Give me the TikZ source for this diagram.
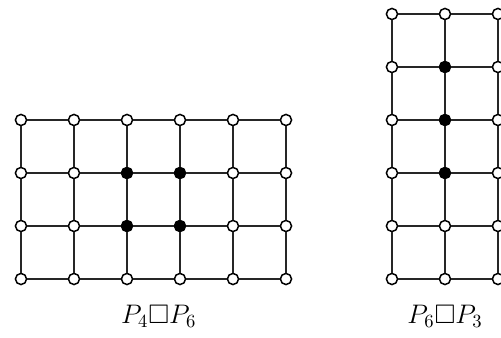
\documentclass[tikz,border=0pt]{standalone}
\usepackage{amsmath,amssymb}
\usetikzlibrary{positioning}
\tikzset{
  vertex/.style={draw=black,circle,fill=white,inner sep=0pt,
    minimum size=2.1mm,line width=0.8pt},
  dominated/.style={vertex,fill=black},
  gridedge/.style={line width=0.6pt,draw=black!85},
  caption/.style={font=\Large,anchor=base},
}

\begin{document}
\begin{tikzpicture}[x=1cm,y=1cm]
\useasboundingbox (-0.396,-1.113) rectangle (9.057,5.264);
% P4 box P6
\foreach \i in {0,...,5}
  \foreach \j in {0,...,3}{
    \pgfmathtruncatemacro\dark{and(\i>1,\i<4)*and(\j>0,\j<3)}
    \ifnum\dark=1 \def\vstyle{dominated}\else\def\vstyle{vertex}\fi
    \node[\vstyle] (a-\i-\j) at (\i,\j) {};
  }
\foreach \i in {0,...,4}
  \foreach \j in {0,...,3}{
    \pgfmathtruncatemacro\k{\i+1}
    \draw[gridedge] (a-\i-\j) -- (a-\k-\j);
  }
\foreach \i in {0,...,5}
  \foreach \j in {0,...,2}{
    \pgfmathtruncatemacro\k{\j+1}
    \draw[gridedge] (a-\i-\j) -- (a-\i-\k);
  }
% P6 box P3
\foreach \i in {0,...,2}
  \foreach \j in {0,...,5}{
    \pgfmathtruncatemacro\dark{(\i==1)*and(\j>1,\j<5)}
    \ifnum\dark=1 \def\vstyle{dominated}\else\def\vstyle{vertex}\fi
    \node[\vstyle] (b-\i-\j) at (7+\i,\j) {};
  }
\foreach \i in {0,...,1}
  \foreach \j in {0,...,5}{
    \pgfmathtruncatemacro\k{\i+1}
    \draw[gridedge] (b-\i-\j) -- (b-\k-\j);
  }
\foreach \i in {0,...,2}
  \foreach \j in {0,...,4}{
    \pgfmathtruncatemacro\k{\j+1}
    \draw[gridedge] (b-\i-\j) -- (b-\i-\k);
  }
\node[caption] (cap-a) at (2.6,-0.836) {$P_4\Box P_6$};
\node[caption] (cap-b) at (8,-0.836) {$P_6\Box P_3$};
\end{tikzpicture}
\end{document}
